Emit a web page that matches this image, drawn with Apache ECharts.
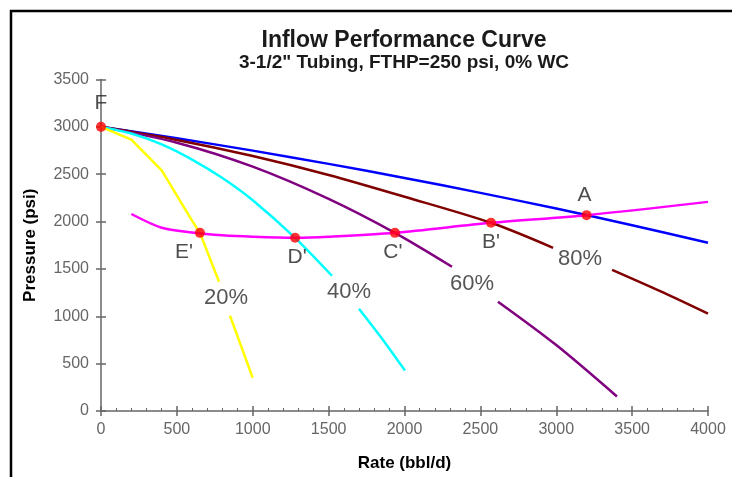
<!DOCTYPE html>
<html>
<head>
<meta charset="utf-8">
<script src="https://cdn.jsdelivr.net/npm/echarts@6/dist/echarts.min.js"></script>
<style>
  html, body { margin: 0; padding: 0; background: #fff; }
  #main { width: 732px; height: 477px; }
</style>
</head>
<body>
<div id="main"></div>
<script>
// IPR curves, rate in bbl/d, pressure in psi (null = gap for the label)
var rateTop = [0, 500, 1000, 1500, 2000, 2500, 3000, 3500, 4000];
var pwfTop = [3000, 2879, 2749, 2609, 2461, 2303, 2137, 1961, 1776];

var rate80 = [0, 500, 1000, 1500, 2000, 2570, 2979, 3170, 3368, 3700, 4000];
var pwf80 = [3000, 2862, 2692, 2492, 2262, 1987, 1723, null, 1491, 1255, 1028];

var rate60 = [0, 500, 1000, 1500, 1937, 2313, 2460, 2616, 3000, 3400];
var pwf60 = [3000, 2833, 2580, 2240, 1881, 1523, null, 1154, 696, 153];

var rate40 = [0, 200, 400, 600, 800, 1000, 1279, 1522, 1610, 1700, 1850, 2003];
var pwf40 = [3000, 2930, 2815, 2655, 2460, 2225, 1828, 1428, null, 1080, 768, 427];

var rate20 = [0, 200, 400, 600, 652, 778, 815, 850, 1000];
var pwf20 = [3000, 2865, 2540, 2010, 1881, 1365, null, 1006, 350];

// tubing curve
var rateTub = [200, 400, 600, 800, 1000, 1279, 1500, 1937, 2570, 3200, 4000];
var pwfTub = [2080, 1935, 1885, 1855, 1840, 1830, 1840, 1881, 1987, 2068, 2208];

// operating points
var ptNames = ['F', "E'", "D'", "C'", "B'", 'A'];
var ptRate = [0, 652, 1279, 1937, 2570, 3200];
var ptPwf = [3000, 1881, 1830, 1881, 1987, 2068];

// water cut labels
var pctNames = ['20%', '40%', '60%', '80%'];
var pctRate = [824, 1634, 2445, 3157];
var pctPwf = [1196, 1260, 1344, 1607];

var xTicks = [0, 4000, 500];
var yTicks = [0, 3500, 500];

var font = 'Liberation Sans, Arial, sans-serif';

function pairs(xs, ys) {
    return xs.map(function (x, i) { return [x, ys[i]]; });
}

function curve(name, xs, ys, color, smooth) {
    return {
        name: name,
        type: 'line',
        data: pairs(xs, ys),
        showSymbol: false,
        connectNulls: false,
        smooth: smooth,
        lineStyle: { color: color, width: 2.5 },
        z: 2,
        silent: true
    };
}

var labelPlace = {
    'F': { position: 'top', distance: 8 },
    "E'": { position: 'bottom', distance: 4, offset: [-16, 0] },
    "D'": { position: 'bottom', distance: 4, offset: [2, 0] },
    "C'": { position: 'bottom', distance: 4, offset: [-2, 0] },
    "B'": { position: 'bottom', distance: 4 },
    'A': { position: 'top', distance: 4, offset: [-2, 0] }
};

var pointData = ptNames.map(function (n, i) {
    var lp = labelPlace[n];
    return {
        name: n,
        value: [ptRate[i], ptPwf[i]],
        label: { position: lp.position, distance: lp.distance, offset: lp.offset || [0, 0] }
    };
});

var pctData = pctNames.map(function (n, i) {
    return { name: n, value: [pctRate[i], pctPwf[i]] };
});

var axisGrey = '#666';
var plain = function (v) { return String(v); };
var myChart = echarts.init(document.getElementById('main'));

var option = {
    backgroundColor: '#fff',
    animation: false,
    title: {
        text: 'Inflow Performance Curve',
        subtext: '3-1/2" Tubing, FTHP=250 psi, 0% WC',
        left: 399,
        textAlign: 'center',
        top: 24,
        itemGap: 1,
        textStyle: { fontFamily: font, fontSize: 23, fontWeight: 'bold', color: '#1a1a1a' },
        subtextStyle: { fontFamily: font, fontSize: 19, fontWeight: 'bold', color: '#1a1a1a' }
    },
    grid: { left: 101, right: 24, top: 79.5, bottom: 65.5, containLabel: false },
    xAxis: [{
        type: 'value',
        min: xTicks[0], max: xTicks[1], interval: xTicks[2],
        name: 'Rate (bbl/d)',
        nameLocation: 'middle',
        nameGap: 44,
        nameTextStyle: { fontFamily: font, fontSize: 17, fontWeight: 'bold', color: '#000' },
        axisLine: { lineStyle: { color: axisGrey, width: 1.5 } },
        axisTick: { show: true, length: 5, lineStyle: { color: axisGrey, width: 1.5 } },
        axisLabel: { fontFamily: font, fontSize: 16, color: '#666', margin: 11, formatter: plain },
        splitLine: { show: false }
    }, {
        type: 'value',
        position: 'bottom',
        min: xTicks[0], max: xTicks[1], interval: xTicks[2],
        axisLine: { show: false },
        axisTick: { show: true, inside: true, length: 5, lineStyle: { color: axisGrey, width: 1.5 } },
        minorTick: { show: true, splitNumber: 5, length: 3, lineStyle: { color: axisGrey, width: 1 } },
        axisLabel: { show: false },
        splitLine: { show: false }
    }],
    yAxis: [{
        type: 'value',
        min: yTicks[0], max: yTicks[1], interval: yTicks[2],
        name: 'Pressure (psi)',
        nameLocation: 'middle',
        nameGap: 62,
        nameTextStyle: { fontFamily: font, fontSize: 17, fontWeight: 'bold', color: '#000' },
        axisLine: { lineStyle: { color: axisGrey, width: 1.5 } },
        axisTick: { show: true, length: 5, lineStyle: { color: axisGrey, width: 1.5 } },
        axisLabel: { fontFamily: font, fontSize: 16, color: '#666', margin: 12, formatter: plain },
        splitLine: { show: false }
    }, {
        type: 'value',
        position: 'left',
        min: yTicks[0], max: yTicks[1], interval: yTicks[2],
        axisLine: { show: false },
        axisTick: { show: true, inside: true, length: 5, lineStyle: { color: axisGrey, width: 1.5 } },
        axisLabel: { show: false },
        splitLine: { show: false }
    }],
    series: [
        curve('100%', rateTop, pwfTop, '#0000ff', 0.3),
        curve('80%', rate80, pwf80, '#800000', 0.3),
        curve('60%', rate60, pwf60, '#800080', 0.3),
        curve('40%', rate40, pwf40, '#00ffff', 0.25),
        curve('20%', rate20, pwf20, '#ffff00', false),
        curve('Tubing', rateTub, pwfTub, '#ff00ff', 0.3),
        {
            name: 'points',
            type: 'scatter',
            data: pointData,
            symbolSize: 10,
            itemStyle: { color: '#ff0000' },
            label: {
                show: true,
                formatter: '{b}',
                fontFamily: font,
                fontSize: 21,
                color: '#222'
            },
            z: 5,
            silent: true
        },
        {
            name: 'wc',
            type: 'scatter',
            data: pctData,
            symbolSize: 0,
            label: {
                show: true,
                position: 'inside',
                formatter: '{b}',
                fontFamily: font,
                fontSize: 22,
                color: '#2a2a2a'
            },
            z: 5,
            silent: true
        }
    ],
    graphic: [
        { type: 'line', shape: { x1: 10, y1: 11, x2: 732, y2: 11 }, style: { stroke: '#000', lineWidth: 2.5 } },
        { type: 'line', shape: { x1: 11, y1: 10, x2: 11, y2: 477 }, style: { stroke: '#000', lineWidth: 2.5 } }
    ]
};

myChart.setOption(option);
</script>
</body>
</html>
